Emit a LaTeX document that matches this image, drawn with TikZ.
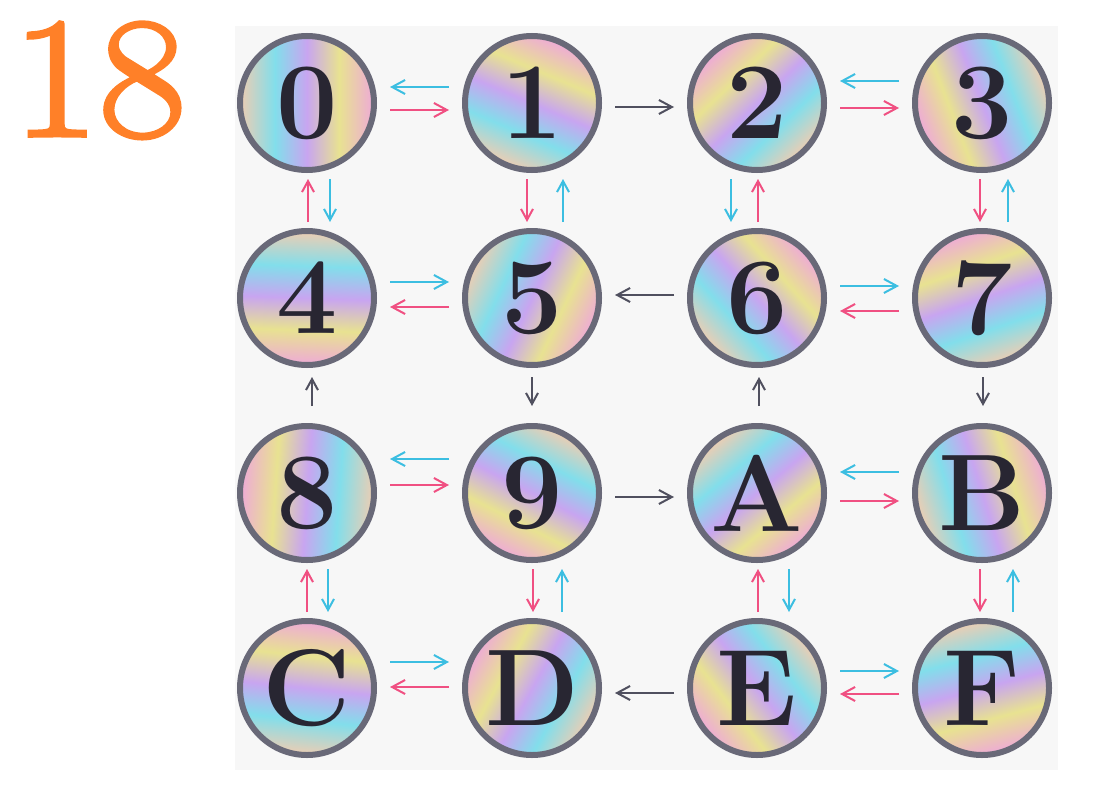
\documentclass[tikz,border=0pt]{standalone}
\usepackage{fontspec}
\newfontfamily\titlefont{Latin Modern Roman}[FakeBold=2.2]
\usetikzlibrary{arrows.meta}
\definecolor{panelgray}{RGB}{247,247,247}
\definecolor{titleorange}{RGB}{255,128,40}
\definecolor{ringgray}{RGB}{105,105,120}
\definecolor{glyphdark}{RGB}{40,38,50}
\definecolor{linkpink}{RGB}{240,80,130}
\definecolor{linkcyan}{RGB}{60,190,225}
\definecolor{linkdark}{RGB}{80,80,95}
\definecolor{tintpeach}{RGB}{238,205,178}
\definecolor{tintcyan}{RGB}{130,222,235}
\definecolor{tintlilac}{RGB}{200,165,240}
\definecolor{tintyellow}{RGB}{232,226,145}
\definecolor{tintpink}{RGB}{238,170,215}
\pgfdeclarehorizontalshading{pastel}{100bp}{color(0bp)=(tintpeach); color(25bp)=(tintpeach); color(38bp)=(tintcyan); color(50bp)=(tintlilac); color(62bp)=(tintyellow); color(75bp)=(tintpink); color(100bp)=(tintpink)}

\begin{document}
\begin{tikzpicture}[
    x=1pt, y=-1pt,
    disc/.style={circle, draw=ringgray, line width=6pt, minimum size=134pt, inner sep=0pt, shading=pastel, text=glyphdark, font=\fontsize{109}{109}\selectfont\bfseries},
    hlink/.style={line width=2pt, -{Straight Barb[length=13pt, width=14pt]}, shorten <=13pt, shorten >=13pt},
    vlink/.style={line width=2pt, -{Straight Barb[length=11pt, width=12pt]}, shorten <=6pt, shorten >=6pt},
]
\useasboundingbox (0,0) rectangle (1100,800);
\fill[panelgray] (235,26) rectangle (1058,770);
\node[anchor=north west, inner sep=0pt, text=titleorange, xscale=1.1, transform shape, font=\fontsize{172}{172}\selectfont\titlefont] (title) at (12,22) {18};

% 4x4 grid of discs, 0 to F
\foreach \lab [count=\i from 0] in {0,1,2,3,4,5,6,7,8,9,A,B,C,D,E,F} {
  \pgfmathtruncatemacro{\col}{mod(\i,4)}
  \pgfmathtruncatemacro{\row}{\i/4}
  \pgfmathtruncatemacro{\ang}{mod(\i*67,360)}
  \node[disc, shading angle=\ang] (c\lab) at (307+225*\col, 103+195*\row) {\lab};
}

% sideways links, offset in px below the row centre
\foreach \a/\b/\o in {c1/c0/-16, c3/c2/-22, c4/c5/-16, c6/c7/-12, c9/c8/-34, cB/cA/-21, cC/cD/-26, cE/cF/-17}
  \draw[hlink, linkcyan, transform canvas={yshift=-(\o)}] (\a) -- (\b);
\foreach \a/\b/\o in {c0/c1/7, c2/c3/5, c5/c4/9, c7/c6/13, c8/c9/-8, cA/cB/8, cD/cC/-1, cF/cE/6}
  \draw[hlink, linkpink, transform canvas={yshift=-(\o)}] (\a) -- (\b);
\foreach \a/\b/\o in {c1/c2/4, c6/c5/-3, c9/cA/4, cE/cD/5}
  \draw[hlink, linkdark, transform canvas={yshift=-(\o)}] (\a) -- (\b);

% up and down links, offset in px right of the column centre
\foreach \a/\b/\o in {c4/c0/1, c1/c5/-5, c6/c2/1, c3/c7/-2, cC/c8/0, c9/cD/1, cE/cA/1, cB/cF/-2}
  \draw[vlink, linkpink, transform canvas={xshift=\o}] (\a) -- (\b);
\foreach \a/\b/\o in {c0/c4/23, c5/c1/31, c2/c6/-26, c7/c3/26, c8/cC/21, cD/c9/30, cA/cE/32, cF/cB/31}
  \draw[vlink, linkcyan, transform canvas={xshift=\o}] (\a) -- (\b);
\draw[vlink, linkdark, shorten <=17pt, shorten >=9pt, transform canvas={xshift=5}] (c8) -- (c4);
\draw[vlink, linkdark, shorten <=9pt, shorten >=17pt] (c5) -- (c9);
\draw[vlink, linkdark, shorten <=17pt, shorten >=9pt, transform canvas={xshift=2}] (cA) -- (c6);
\draw[vlink, linkdark, shorten <=9pt, shorten >=17pt, transform canvas={xshift=1}] (c7) -- (cB);
\end{tikzpicture}
\end{document}
